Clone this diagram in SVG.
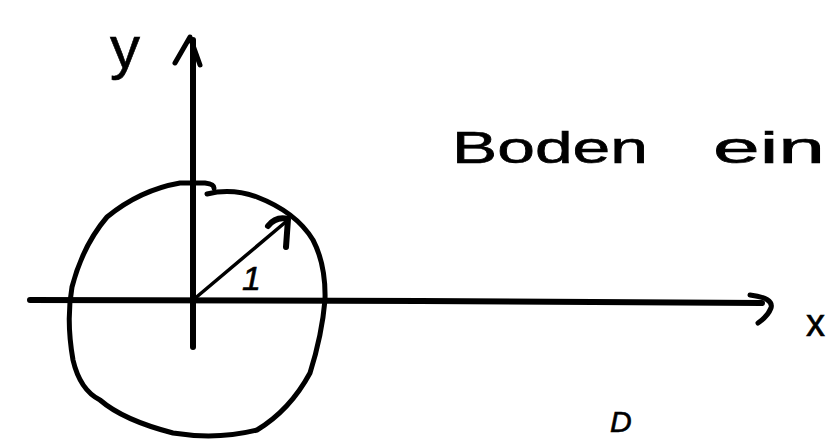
<svg xmlns="http://www.w3.org/2000/svg" width="833" height="440" viewBox="0 0 833 440">
<style>
.ink{fill:none;stroke:#000;stroke-linecap:round;stroke-linejoin:round}
.hw{font-family:"Liberation Sans","DejaVu Sans",sans-serif;fill:#000;stroke:#000;stroke-width:0.6}
</style>
<rect width="833" height="440" fill="#fff"/>
<g id="connectors">
<g id="y-axis">
<path class="ink" stroke-width="6" d="M193,347 L193,40"/>
<path class="ink" stroke-width="5" d="M175,63 L190,37 L200,65"/>
</g>
<g id="x-axis">
<path class="ink" stroke-width="6" d="M30,300 L420,301 L762,303"/>
<path class="ink" stroke-width="5" d="M750,295 Q774,298 771,308 Q768,316 758,323"/>
</g>
<g id="radius">
<path class="ink" stroke-width="3.5" d="M193,300 L288,220"/>
<path class="ink" stroke-width="6" d="M268,226 Q276,216 288,219 L286,247"/>
</g>
</g>
<g id="circle">
<path class="ink" stroke-width="5" d="M214,188 Q214,184 205,183 L180,183 Q140,190 107,217 Q83,245 72,287 Q66,320 73,360 Q80,390 100,400 Q123,420 173,433 Q217,440 257,430 Q290,410 310,373 Q322,335 325,300 Q326,265 313,240 Q296,212 257,197 Q232,188 207,194"/>
</g>
<g id="labels">
<text class="hw" x="110" y="68" font-size="60">y</text>
<text class="hw" x="806" y="336" font-size="38">x</text>
<text class="hw" x="242" y="290" font-size="34" font-style="italic">1</text>
<text class="hw" x="452" y="163" font-size="44" textLength="196" lengthAdjust="spacingAndGlyphs">Boden</text>
<text class="hw" x="713" y="163" font-size="44" textLength="112" lengthAdjust="spacingAndGlyphs">ein</text>
<text class="hw" x="610" y="432" font-size="30" font-style="italic">D</text>
</g>
</svg>
